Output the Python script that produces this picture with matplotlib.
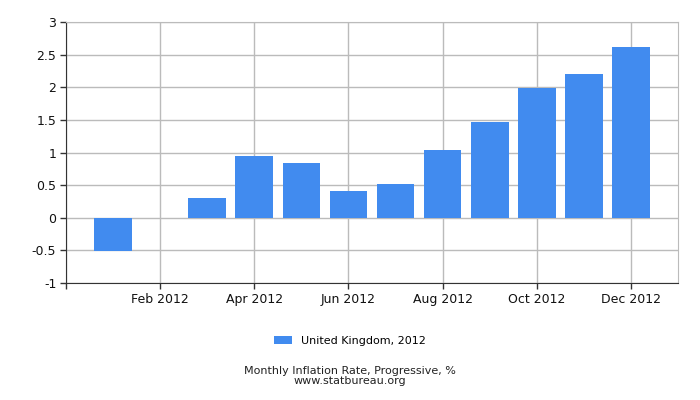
import matplotlib
matplotlib.use("Agg")
import matplotlib.pyplot as plt

months = ["Jan", "Feb", "Mar", "Apr", "May", "Jun", "Jul", "Aug", "Sep", "Oct", "Nov", "Dec"]
values = [-0.51, 0.0, 0.31, 0.95, 0.84, 0.41, 0.52, 1.04, 1.47, 1.99, 2.21, 2.62]
tick_labels = ["Feb 2012", "Apr 2012", "Jun 2012", "Aug 2012", "Oct 2012", "Dec 2012"]
tick_months = ["Feb", "Apr", "Jun", "Aug", "Oct", "Dec"]
yticks = [-1, -0.5, 0, 0.5, 1, 1.5, 2, 2.5, 3]
ytick_labels = ["-1", "-0.5", "0", "0.5", "1", "1.5", "2", "2.5", "3"]
series_label = "United Kingdom, 2012"
title = "Monthly Inflation Rate, Progressive, %"
source = "www.statbureau.org"

plt.rcParams['font.family'] = ['DejaVu Sans']
fig = plt.figure(figsize=(7, 4), dpi=100)
ax = fig.add_axes([66/700, 1-283/400, (678-66)/700, (283-22)/400])

pos = list(range(1, len(months) + 1))
bars = ax.bar(pos, values, width=0.8, color="#418bef", label=series_label, zorder=2)

ax.set_xlim(0, 13)
ax.set_ylim(-1, 3)
ax.set_xticks([0] + [months.index(m) + 1 for m in tick_months])
ax.set_xticklabels([""] + tick_labels, fontsize=9)
ax.set_yticks(yticks)
ax.set_yticklabels(ytick_labels, fontsize=9)
ax.grid(True, color="#bbbbbb", linewidth=1, zorder=0)
ax.set_axisbelow(True)
for s in ["top", "right"]:
    ax.spines[s].set_color("#bbbbbb")
for s in ["left", "bottom"]:
    ax.spines[s].set_color("#333333")
ax.tick_params(axis="both", length=4, width=1, color="#333333", pad=3, labelcolor="#111111")

fig.legend(handles=[bars], labels=[series_label], loc="center", bbox_to_anchor=(0.5, 1-341/400),
           frameon=False, fontsize=8, handlelength=1.6, handleheight=0.7)
fig.text(0.5, 1-371/400, title, ha="center", va="center", fontsize=8, color="#222222")
fig.text(0.5, 1-381/400, source, ha="center", va="center", fontsize=8, color="#222222")

fig.savefig("out.png", dpi=100)
